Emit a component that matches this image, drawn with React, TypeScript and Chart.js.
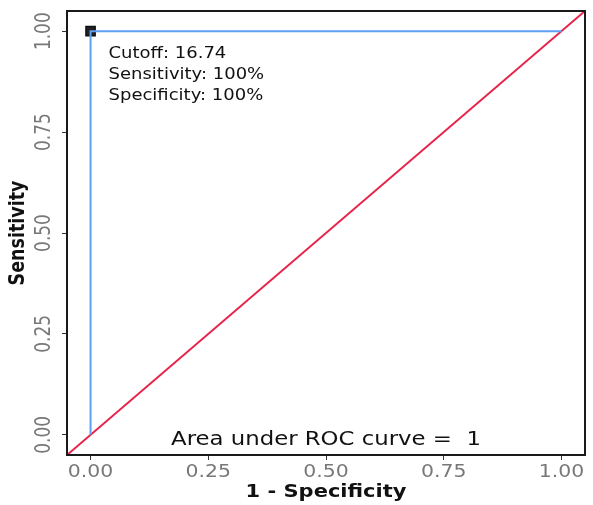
import React, { useEffect, useRef } from "react";
import { Chart, registerables } from "chart.js";

Chart.register(...registerables);

// ---- data ----
const xTicks = [0, 0.25, 0.5, 0.75, 1];
const yTicks = [0, 0.25, 0.5, 0.75, 1];
const rocFpr = [0, 0, 1];
const rocTpr = [0, 1, 1];
const refFpr = [-0.05, 1.05];
const refTpr = [-0.05, 1.05];
const cutoffFpr = [0];
const cutoffTpr = [1];
const annotationLines = ["Cutoff: 16.74", "Sensitivity: 100%", "Specificity: 100%"];
const aucLabel = "Area under ROC curve =  1";
const xTitle = "1 - Specificity";
const yTitle = "Sensitivity";

const FONT = "'DejaVu Sans', sans-serif";
const SX = 1.2; // horizontal stretch of the original picture's text

const textPlugin = {
  id: "rocText",
  afterDatasetsDraw(chart: any) {
    const { ctx, chartArea: a, scales } = chart;
    const x = scales.x;
    const y = scales.y;
    const draw = (
      t: string,
      px: number,
      py: number,
      font: string,
      color: string,
      align: CanvasTextAlign,
      baseline: CanvasTextBaseline,
      rot = 0
    ) => {
      ctx.save();
      ctx.translate(px, py);
      if (rot) {
        ctx.rotate(rot);
        ctx.scale(1, SX);
      } else {
        ctx.scale(SX, 1);
      }
      ctx.font = font;
      ctx.fillStyle = color;
      ctx.textAlign = align;
      ctx.textBaseline = baseline;
      ctx.fillText(t, 0, 0);
      ctx.restore();
    };
    ctx.save();
    // panel border
    ctx.strokeStyle = "#1a1a1a";
    ctx.lineWidth = 2;
    ctx.strokeRect(a.left, a.top, a.right - a.left, a.bottom - a.top);

    const tickColor = "#787878";
    const tickFont = `17px ${FONT}`;
    xTicks.forEach((v) => {
      draw(v.toFixed(2), x.getPixelForValue(v), a.bottom + 22, tickFont, tickColor, "center", "alphabetic");
    });
    yTicks.forEach((v) => {
      draw(v.toFixed(2), a.left - 22, y.getPixelForValue(v), tickFont, tickColor, "center", "middle", -Math.PI / 2);
    });
    const titleFont = `bold 17.5px ${FONT}`;
    draw(xTitle, (a.left + a.right) / 2, a.bottom + 42, titleFont, "#111", "center", "alphabetic");
    draw(yTitle, 19, (a.top + a.bottom) / 2, titleFont, "#111", "center", "middle", -Math.PI / 2);

    const px0 = x.getPixelForValue(cutoffFpr[0]);
    const py0 = y.getPixelForValue(cutoffTpr[0]);
    annotationLines.forEach((t, i) => {
      draw(t, px0 + 18, py0 + 27 + i * 21, `15px ${FONT}`, "#111", "left", "alphabetic");
    });
    draw(aucLabel, (a.left + a.right) / 2, a.bottom - 10, `19px ${FONT}`, "#111", "center", "alphabetic");
    ctx.restore();
  },
};

export default function App() {
  const ref = useRef<HTMLCanvasElement | null>(null);
  useEffect(() => {
    document.body.style.margin = "0";
    const canvas = ref.current!;
    const chart = new Chart(canvas, {
      type: "scatter",
      data: {
        datasets: [
          {
            data: rocFpr.map((v, i) => ({ x: v, y: rocTpr[i] })),
            showLine: true,
            borderColor: "#5e9ff2",
            borderWidth: 2,
            pointRadius: 0,
            tension: 0,
          },
          {
            data: refFpr.map((v, i) => ({ x: v, y: refTpr[i] })),
            showLine: true,
            borderColor: "#e8234a",
            borderWidth: 2,
            pointRadius: 0,
          },
          {
            data: cutoffFpr.map((v, i) => ({ x: v, y: cutoffTpr[i] })),
            showLine: false,
            pointStyle: "rect",
            pointRadius: 6.5,
            backgroundColor: "#222",
            borderColor: "#111",
            borderWidth: 1.5,
            clip: false,
          },
          {
            data: cutoffFpr.map((v, i) => ({ x: v, y: cutoffTpr[i] })),
            showLine: false,
            pointStyle: "crossRot",
            pointRadius: 5.5,
            borderColor: "#a0a0a0",
            borderWidth: 1,
            clip: false,
          },
        ],
      } as any,
      options: {
        animation: false,
        responsive: false,
        layout: { padding: { top: 11, right: 3, left: 0, bottom: 0 } },
        plugins: { legend: { display: false }, tooltip: { enabled: false } },
        scales: {
          x: {
            type: "linear",
            min: -0.05,
            max: 1.05,
            ticks: { display: false },
            afterBuildTicks: (s: any) => {
              s.ticks = xTicks.map((v) => ({ value: v }));
            },
            afterFit: (s: any) => {
              s.height = 50;
            },
            grid: { drawOnChartArea: false, drawTicks: true, tickLength: 5, color: "#333", lineWidth: 1 },
            border: { display: false },
          },
          y: {
            type: "linear",
            min: -0.05,
            max: 1.05,
            ticks: { display: false },
            afterBuildTicks: (s: any) => {
              s.ticks = yTicks.map((v) => ({ value: v }));
            },
            afterFit: (s: any) => {
              s.width = 67;
            },
            grid: { drawOnChartArea: false, drawTicks: true, tickLength: 5, color: "#333", lineWidth: 1 },
            border: { display: false },
          },
        },
      } as any,
      plugins: [textPlugin],
    });
    return () => chart.destroy();
  }, []);
  return (
    <div style={{ position: "fixed", left: 0, top: 0, width: 593, height: 505, background: "#fff" }}>
      <canvas ref={ref} width={593} height={505} style={{ display: "block" }} />
    </div>
  );
}
